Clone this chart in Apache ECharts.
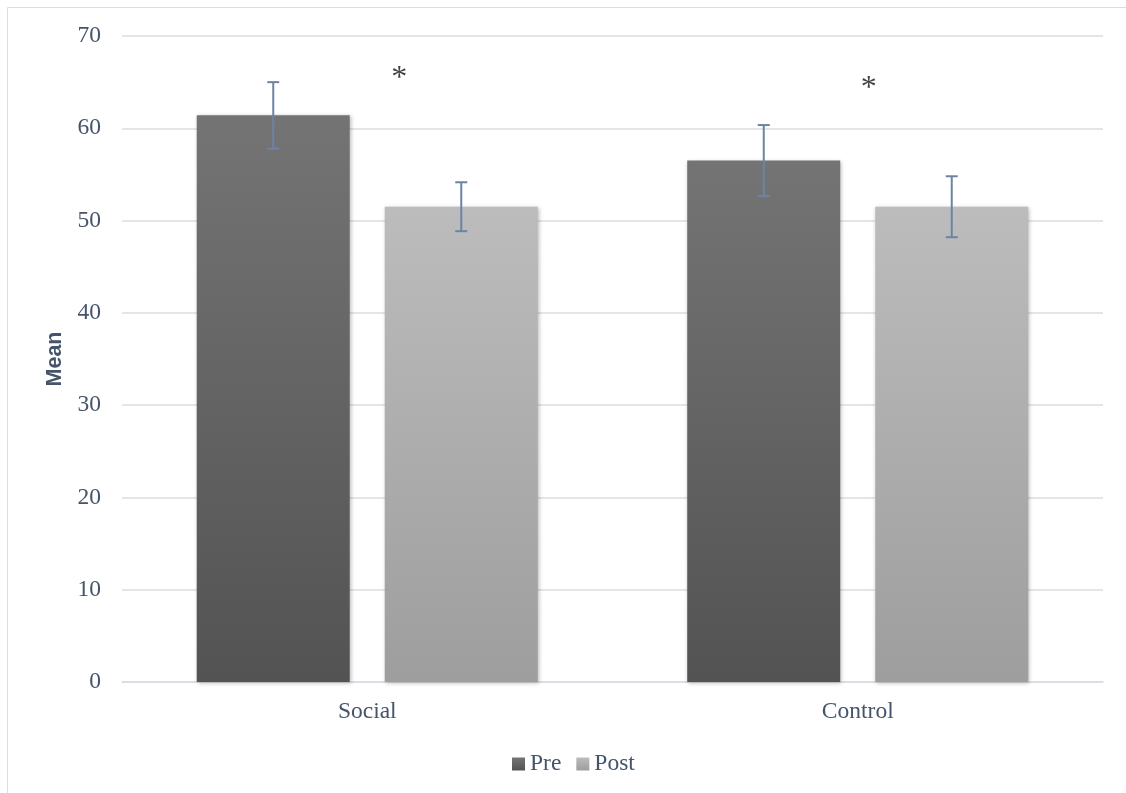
<!DOCTYPE html>
<html>
<head>
<meta charset="utf-8">
<script src="https://cdn.jsdelivr.net/npm/echarts@6/dist/echarts.min.js"></script>
<style>
  html, body { margin: 0; padding: 0; background: #fff; }
  #chart { width: 1126px; height: 793px; }
</style>
</head>
<body>
<div id="chart"></div>
<script>
// Group means (pre/post) with their error margins
const categories = ['Social', 'Control'];
const seriesNames = ['Pre', 'Post'];
const preMeans = [61.4, 56.5];
const postMeans = [51.5, 51.5];
const preErr = [3.6, 3.85];
const postErr = [2.65, 3.3];
// Significance markers: [category index, height]
const sigMarks = [[0, 66.0], [1, 64.9]];
const sigOffsets = [32, 11];

const yTicks = { min: 0, max: 70, interval: 10 };

const BAR_W = 153;
const BAR_GAP = 35;
const TEXT = '#44546a';
const SERIF = '"Liberation Serif", "Times New Roman", serif';
const FS = 23.5;

function grad(top, bottom) {
  return new echarts.graphic.LinearGradient(0, 0, 0, 1, [
    { offset: 0, color: top },
    { offset: 1, color: bottom }
  ]);
}
const preColor = grad('#747474', '#535353');
const postColor = grad('#bcbcbc', '#9e9e9e');

const barShadow = {
  shadowColor: 'rgba(0,0,0,0.28)',
  shadowBlur: 4,
  shadowOffsetX: 1,
  shadowOffsetY: 1
};

function errorSeries(means, errs, side) {
  return {
    type: 'custom',
    silent: true,
    z: 5,
    data: means.map((m, i) => [i, m, m - errs[i], m + errs[i]]),
    renderItem: function (params, api) {
      const off = side * (BAR_W / 2 + BAR_GAP / 2);
      const lo = api.coord([api.value(0), api.value(2)]);
      const hi = api.coord([api.value(0), api.value(3)]);
      const x = lo[0] + off;
      const cap = 6;
      const style = { stroke: '#6b84a5', lineWidth: 2 };
      return {
        type: 'group',
        children: [
          { type: 'line', shape: { x1: x, y1: lo[1], x2: x, y2: hi[1] }, style },
          { type: 'line', shape: { x1: x - cap, y1: lo[1], x2: x + cap, y2: lo[1] }, style },
          { type: 'line', shape: { x1: x - cap, y1: hi[1], x2: x + cap, y2: hi[1] }, style }
        ]
      };
    }
  };
}

const chart = echarts.init(document.getElementById('chart'), null, { renderer: 'canvas' });

chart.setOption({
  backgroundColor: '#fff',
  animation: false,
  graphic: [{
    type: 'rect',
    shape: { x: 7.5, y: 7.5, width: 1130, height: 800 },
    style: { fill: 'none', stroke: '#d9dee5', lineWidth: 1 },
    silent: true
  }],
  grid: { left: 122, right: 23, top: 36, bottom: 111 },
  legend: {
    data: seriesNames,
    top: 747,
    left: 507,
    itemWidth: 13,
    itemHeight: 13,
    itemGap: 15,
    icon: 'rect',
    textStyle: { fontFamily: SERIF, fontSize: FS, color: TEXT }
  },
  xAxis: {
    type: 'category',
    data: categories,
    axisLine: { show: true, lineStyle: { color: '#d9dde3', width: 1.5 } },
    axisTick: { show: false },
    axisLabel: { fontFamily: SERIF, fontSize: FS, color: TEXT, margin: 18 }
  },
  yAxis: {
    type: 'value',
    min: yTicks.min,
    max: yTicks.max,
    interval: yTicks.interval,
    name: 'Mean',
    nameLocation: 'middle',
    nameGap: 56,
    nameRotate: 90,
    nameTextStyle: { fontFamily: '"Liberation Sans", Arial, sans-serif', fontWeight: 'bold', fontSize: 21.5, color: TEXT },
    axisLine: { show: false },
    axisTick: { show: false },
    axisLabel: { fontFamily: SERIF, fontSize: FS, color: TEXT, margin: 21 },
    splitLine: { lineStyle: { color: '#d9dde3', width: 1.5 } }
  },
  series: [
    {
      name: seriesNames[0],
      type: 'bar',
      data: preMeans,
      barWidth: BAR_W,
      barGap: (BAR_GAP / BAR_W * 100).toFixed(1) + '%',
      itemStyle: Object.assign({ color: preColor }, barShadow)
    },
    {
      name: seriesNames[1],
      type: 'bar',
      data: postMeans,
      barWidth: BAR_W,
      itemStyle: Object.assign({ color: postColor }, barShadow)
    },
    errorSeries(preMeans, preErr, -1),
    errorSeries(postMeans, postErr, 1),
    {
      type: 'scatter',
      silent: true,
      symbolSize: 0,
      z: 6,
      data: sigMarks.map((d, i) => ({
        value: d,
        label: {
          show: true,
          formatter: '*',
          position: 'inside',
          offset: [sigOffsets[i], 6],
          fontFamily: SERIF,
          fontSize: 32,
          color: '#111'
        }
      }))
    }
  ]
});
</script>
</body>
</html>
